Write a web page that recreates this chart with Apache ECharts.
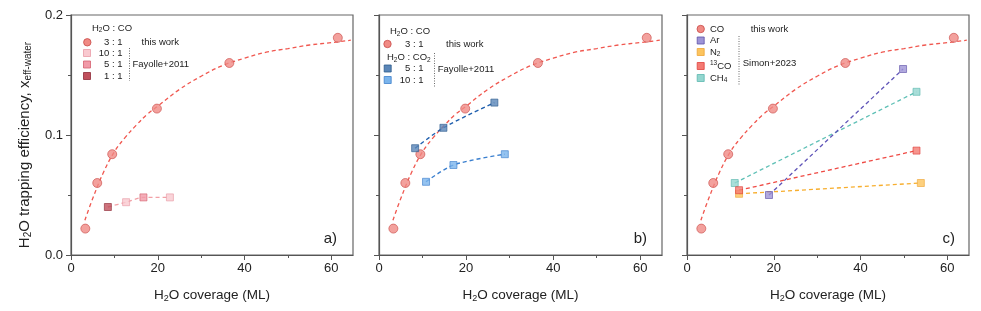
<!DOCTYPE html>
<html><head><meta charset="utf-8">
<script src="https://cdn.jsdelivr.net/npm/echarts@6/dist/echarts.min.js"></script>
<style>html,body{margin:0;padding:0;background:#fff}#c{width:981px;height:311px}</style>
</head><body><div id="c"></div>
<script>
// ---- tick labels / categories ----
const xTicks = [0, 20, 40, 60];
const xMinorTicks = [10, 30, 50];
const panelLabels = ['a)', 'b)', 'c)'];

// ---- this work: H2O:CO 3:1 ----
const coX = [3.3, 6.05, 9.5, 19.8, 36.5, 61.5];
const coY = [0.022, 0.060, 0.084, 0.122, 0.160, 0.181];
// dashed fit curve
const fitX = [3.2, 5, 7.5, 10, 12.5, 15, 17.5, 20, 25, 30, 35, 40, 45, 50, 55, 60, 64.5];
const fitY = [0.029, 0.047, 0.069, 0.086, 0.098, 0.108, 0.117, 0.124, 0.138, 0.149, 0.158, 0.164, 0.169, 0.172, 0.175, 0.177, 0.179];

// ---- Fayolle+2011, H2O:CO ----
const fayCoX = [8.5, 12.7, 16.7, 22.8];
const fayCoY = [0.040, 0.044, 0.048, 0.048];
const fayCoRatio = ['1:1', '10:1', '5:1', '10:1'];

// ---- Fayolle+2011, H2O:CO2 ----
const co2r5X = [8.3, 14.8, 26.5];
const co2r5Y = [0.089, 0.106, 0.127];
const co2r10X = [10.8, 17.1, 28.9];
const co2r10Y = [0.061, 0.075, 0.084];

// ---- Simon+2023 ----
const arX = [18.9, 49.8];   const arY = [0.050, 0.155];
const n2X = [12.0, 53.9];   const n2Y = [0.051, 0.060];
const c13X = [12.0, 52.9];  const c13Y = [0.054, 0.087];
const ch4X = [11.0, 52.9];  const ch4Y = [0.060, 0.136];

const FONT = '"Liberation Sans", Arial, sans-serif';
const AX = '#555';
const zip = (xs, ys) => xs.map((x, i) => [x, ys[i]]);

const C = {
  co: { fill: '#f08a84', border: '#c94a47', line: '#f0574f' },
  f10: { fill: '#f9c9d0', border: '#e89aa6' },
  f5: { fill: '#f19aa8', border: '#d4606e' },
  f1: { fill: '#c0505c', border: '#8e2a36' },
  fline: '#f2a0a6',
  c5: { fill: '#5a86b8', border: '#2c5a8c', line: '#1f5fae' },
  c10: { fill: '#7ab4ec', border: '#3d80cc', line: '#3a7fcf' },
  ar: { fill: '#9d94d6', border: '#5e52a8', line: '#5f54b8' },
  n2: { fill: '#fcc45e', border: '#eea535', line: '#f7ae2e' },
  c13: { fill: '#f47a72', border: '#e0403c', line: '#ef4a44' },
  ch4: { fill: '#93d6cf', border: '#5bb8ae', line: '#5fc0b6' }
};
const fayStyle = { '1:1': C.f1, '5:1': C.f5, '10:1': C.f10 };

const grids = [
  { left: 71, top: 15, width: 282, height: 240 },
  { left: 379, top: 15, width: 283, height: 240 },
  { left: 687, top: 15, width: 282, height: 240 }
].map(g => Object.assign(g, { show: true, borderColor: '#666', borderWidth: 1.2, backgroundColor: 'transparent' }));

const xAxis = [], yAxis = [], series = [];
for (let i = 0; i < 3; i++) {
  xAxis.push({
    gridIndex: i, type: 'value', min: 0, max: 65, position: 'bottom',
    axisLine: { show: true, onZero: false, lineStyle: { color: AX, width: 1.2 } },
    axisTick: { show: true, length: 5, customValues: xTicks, lineStyle: { color: AX } },
    axisLabel: { customValues: xTicks, fontSize: 13, color: '#222', fontFamily: FONT, margin: 7 },
    splitLine: { show: false },
    name: 'H{sub|2}O coverage (ML)', nameLocation: 'middle', nameGap: 32,
    nameTextStyle: { fontSize: 13.5, color: '#222', fontFamily: FONT,
      rich: { sub: { fontSize: 9, fontFamily: FONT, color: '#222', padding: [7, 0, 0, 0] } } }
  });
  xAxis.push({
    gridIndex: i, type: 'value', min: 0, max: 65, position: 'bottom',
    axisLine: { show: false }, axisLabel: { show: false }, splitLine: { show: false },
    axisTick: { show: true, length: 3, customValues: xMinorTicks, lineStyle: { color: AX } }
  });
  yAxis.push({
    gridIndex: i, type: 'value', min: 0, max: 0.2, interval: 0.1,
    axisLine: { show: true, onZero: false, lineStyle: { color: AX, width: 1.2 } },
    axisTick: { show: true, length: 5, lineStyle: { color: AX } },
    minorTick: { show: true, splitNumber: 2, length: 3, lineStyle: { color: AX } },
    splitLine: { show: false },
    axisLabel: { show: i === 0, fontSize: 13, color: '#222', fontFamily: FONT, margin: 8,
      formatter: v => v.toFixed(1) },
    name: i === 0 ? 'H{sub|2}O trapping efficiency, x{sub|eff-water}' : '',
    nameLocation: 'middle', nameGap: 38, nameRotate: 90,
    nameTextStyle: { fontSize: 15, color: '#222', fontFamily: FONT, padding: [0, 20, 0, 0],
      rich: { sub: { fontSize: 10, fontFamily: FONT, color: '#222', padding: [7, 0, 0, 0] } } }
  });
  const xi = 2 * i;
  series.push({
    type: 'line', xAxisIndex: xi, yAxisIndex: i, data: zip(fitX, fitY), smooth: 0.4,
    symbol: 'none', lineStyle: { color: C.co.line, width: 1.3, type: [4, 3] }, z: 2, silent: true
  });
  series.push({
    type: 'scatter', xAxisIndex: xi, yAxisIndex: i, data: zip(coX, coY), symbol: 'circle', symbolSize: 9,
    itemStyle: { color: C.co.fill, borderColor: C.co.border, borderWidth: 0.8 }, z: 5
  });
}
// panel a: Fayolle CO
series.push({
  type: 'line', xAxisIndex: 0, yAxisIndex: 0, data: zip(fayCoX, fayCoY), smooth: 0.3, symbol: 'none',
  lineStyle: { color: C.fline, width: 1.3, type: [4, 3] }, z: 3
});
series.push({
  type: 'scatter', xAxisIndex: 0, yAxisIndex: 0, symbol: 'rect', symbolSize: 7, z: 6,
  data: fayCoX.map((x, k) => ({ value: [x, fayCoY[k]],
    itemStyle: { color: fayStyle[fayCoRatio[k]].fill, borderColor: fayStyle[fayCoRatio[k]].border, borderWidth: 0.8 } }))
});
// panel b: CO2
[[co2r5X, co2r5Y, C.c5], [co2r10X, co2r10Y, C.c10]].forEach(([xs, ys, c]) => {
  series.push({ type: 'line', xAxisIndex: 2, yAxisIndex: 1, data: zip(xs, ys), smooth: 0.3, symbol: 'none',
    lineStyle: { color: c.line, width: 1.4, type: [4, 3] }, z: 3 });
  series.push({ type: 'scatter', xAxisIndex: 2, yAxisIndex: 1, data: zip(xs, ys), symbol: 'rect', symbolSize: 7,
    itemStyle: { color: c.fill, borderColor: c.border, borderWidth: 0.8 }, z: 6 });
});
// panel c: Simon+2023
[[ch4X, ch4Y, C.ch4], [arX, arY, C.ar], [n2X, n2Y, C.n2], [c13X, c13Y, C.c13]].forEach(([xs, ys, c]) => {
  series.push({ type: 'line', xAxisIndex: 4, yAxisIndex: 2, data: zip(xs, ys), symbol: 'none',
    lineStyle: { color: c.line, width: 1.3, type: [4, 3] }, z: 3 });
  series.push({ type: 'scatter', xAxisIndex: 4, yAxisIndex: 2, data: zip(xs, ys), symbol: 'rect', symbolSize: 7,
    itemStyle: { color: c.fill, borderColor: c.border, borderWidth: 0.8 }, z: 6 });
});

// ---- legend drawing (graphic) ----
const LF = 9.5;
const rich = { sub: { fontSize: 6.5, fontFamily: FONT, fill: '#222', padding: [5, 0, 0, 0] },
               sup: { fontSize: 6.5, fontFamily: FONT, fill: '#222', padding: [0, 0, 5, 0] } };
const T = (x, y, text, align) => ({ type: 'text', x, y, z: 10,
  style: { text, fontSize: LF, fontFamily: FONT, fill: '#222', align: align || 'left', verticalAlign: 'middle', rich } });
const Ci = (x, y, c) => ({ type: 'circle', shape: { cx: x, cy: y, r: 3.7 }, z: 10,
  style: { fill: c.fill, stroke: c.border, lineWidth: 0.8 } });
const Sq = (x, y, c) => ({ type: 'rect', shape: { x: x - 3.5, y: y - 3.5, width: 7, height: 7 }, z: 10,
  style: { fill: c.fill, stroke: c.border, lineWidth: 0.8 } });
const Dot = (x, y1, y2) => ({ type: 'line', shape: { x1: x, y1, x2: x, y2 }, z: 10,
  style: { stroke: '#444', lineWidth: 0.8, lineDash: [1, 1.5] } });

const graphic = [
  // panel a
  T(92, 28, 'H{sub|2}O : CO'),
  Ci(87.3, 42.3, C.co), T(122.5, 42.3, '3 : 1', 'right'), T(141.5, 42.3, 'this work'),
  Sq(87, 53, C.f10), T(122.5, 53, '10 : 1', 'right'),
  Sq(87, 64.5, C.f5), T(122.5, 64.5, '5 : 1', 'right'),
  Sq(87, 76, C.f1), T(122.5, 76, '1 : 1', 'right'),
  Dot(129.5, 48, 81), T(132.5, 64.5, 'Fayolle+2011'),
  // panel b
  T(390, 31.5, 'H{sub|2}O : CO'),
  Ci(387.5, 44, C.co), T(423.5, 44, '3 : 1', 'right'), T(446, 44, 'this work'),
  T(387, 57.5, 'H{sub|2}O : CO{sub|2}'),
  Sq(387.7, 68.5, C.c5), T(423.5, 68.5, '5 : 1', 'right'),
  Sq(387.7, 80, C.c10), T(423.5, 80, '10 : 1', 'right'),
  Dot(434.5, 53, 87.5), T(437.7, 69.5, 'Fayolle+2011'),
  // panel c
  Ci(700.7, 29, C.co), T(710, 29, 'CO'), T(750.7, 29, 'this work'),
  Sq(700.7, 40.5, C.ar), T(710, 40.5, 'Ar'),
  Sq(700.7, 52, C.n2), T(710, 52, 'N{sub|2}'),
  Sq(700.7, 66, C.c13), T(710, 66, '{sup|13}CO'),
  Sq(700.7, 78, C.ch4), T(710, 78, 'CH{sub|4}'),
  Dot(739, 36, 86), T(742.7, 63.5, 'Simon+2023'),
  // panel labels
  ...panelLabels.map((t, i) => ({ type: 'text', x: [337, 647, 955][i], y: 239, z: 10,
    style: { text: t, fontSize: 15, fontFamily: FONT, fill: '#222', align: 'right', verticalAlign: 'middle' } }))
];

const chart = echarts.init(document.getElementById('c'), null, { renderer: 'canvas' });
chart.setOption({ animation: false, backgroundColor: '#fff', grid: grids, xAxis, yAxis, series, graphic });
</script></body></html>
